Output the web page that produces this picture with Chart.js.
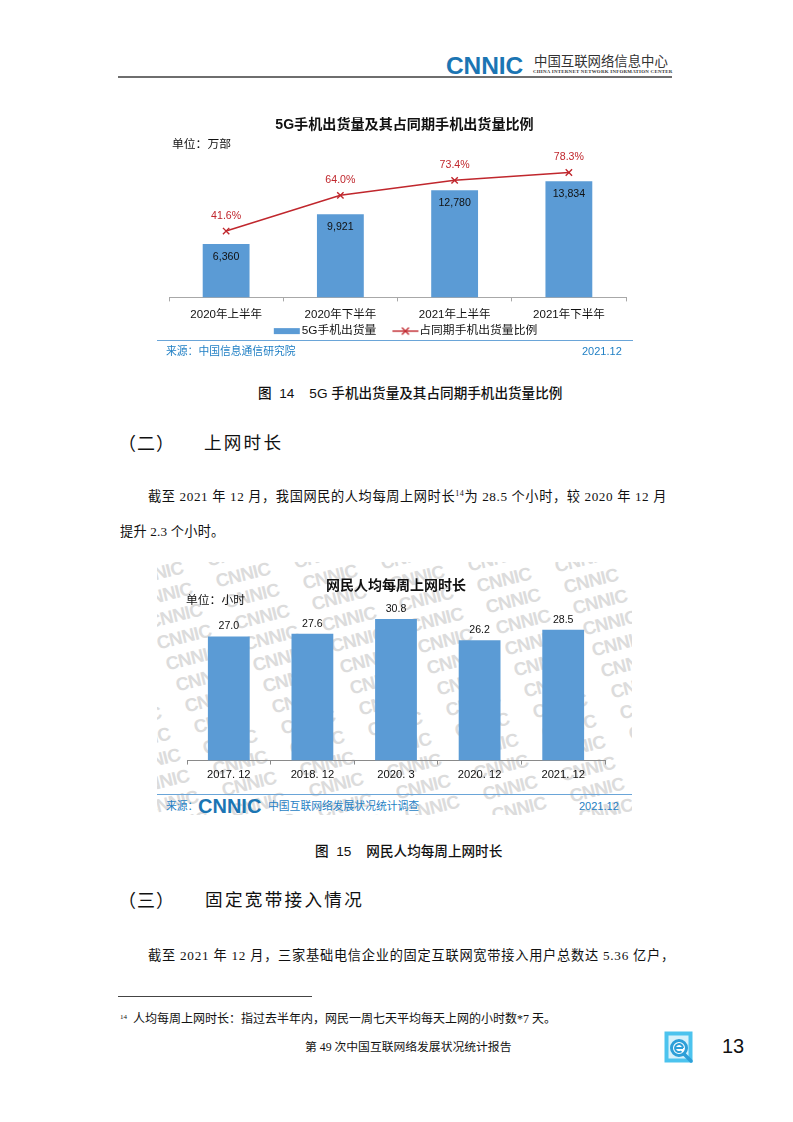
<!DOCTYPE html>
<html lang="zh-CN"><head><meta charset="utf-8">
<script src="https://cdn.jsdelivr.net/npm/chart.js@4"></script>
<style>
html,body{margin:0;padding:0;background:#fff}
body{position:relative;width:793px;height:1122px;overflow:hidden;font-family:"Liberation Serif","Noto Sans CJK SC",serif;color:#111}
.t{position:absolute;white-space:nowrap;line-height:1}
.s{font-family:"Liberation Sans","Noto Sans CJK SC",sans-serif}
.abs{position:absolute}
sup{font-size:8px;line-height:0;vertical-align:5px}
</style></head><body>
<div class="abs" style="left:118px;top:75.5px;width:554px;height:2px;background:#6e6e6e"></div>
<div class="t s" style="left:446px;top:53.5px;font-size:24.5px;font-weight:700;color:#1b75b3;letter-spacing:-.1px">CNNIC</div>
<div class="t" style="left:534px;top:55px;font-size:13.4px;letter-spacing:0;color:#333">中国互联网络信息中心</div>
<div class="t" style="left:533px;top:70px;font-size:4.9px;font-weight:700;letter-spacing:.26px;color:#333">CHINA INTERNET NETWORK INFORMATION CENTER</div>

<canvas id="c1" class="abs" style="left:150px;top:110px"></canvas>
<div class="t s" style="left:172px;top:138.5px;font-size:11.8px;color:#111">单位：万部</div>
<div class="abs" style="left:157px;top:340px;width:476px;height:1px;background:#6aa5d8"></div>
<div class="t s" style="left:166px;top:345.5px;font-size:10.8px;color:#1f7fc4">来源：中国信息通信研究院</div>
<div class="t s" style="left:582px;top:345.5px;font-size:11px;color:#1f7fc4">2021.12</div>
<div class="t s" style="left:258px;top:386.5px;font-size:13.6px;font-weight:500;color:#111">图&nbsp; 14&nbsp; &nbsp; 5G 手机出货量及其占同期手机出货量比例</div>

<div class="t" style="left:118px;top:435px;font-size:18px;letter-spacing:1px">（二）</div>
<div class="t" style="left:204px;top:435px;font-size:17.6px;letter-spacing:2.2px">上网时长</div>
<div class="t" style="left:148px;top:489.5px;font-size:13.2px;letter-spacing:.61px">截至 2021 年 12 月，我国网民的人均每周上网时长<sup>14</sup>为 28.5 个小时，较 2020 年 12 月</div>
<div class="t" style="left:120px;top:525px;font-size:13.2px;letter-spacing:.2px">提升 2.3 个小时。</div>

<div id="wm" class="abs" style="left:157px;top:562px;width:475px;height:253px;overflow:hidden"></div>
<canvas id="c2" class="abs" style="left:157px;top:562px"></canvas>
<div class="t s" style="left:186px;top:594.5px;font-size:11.8px;color:#111">单位：小时</div>
<div class="abs" style="left:157px;top:794px;width:475px;height:1px;background:#6aa5d8"></div>
<div class="t s" style="left:166px;top:800.5px;font-size:10.8px;color:#1f7fc4">来源：</div>
<div class="t s" style="left:198px;top:796px;font-size:20px;font-weight:700;color:#1b75b3">CNNIC</div>
<div class="t s" style="left:268px;top:800.5px;font-size:10.8px;color:#1f7fc4">中国互联网络发展状况统计调查</div>
<div class="t s" style="left:579px;top:800.5px;font-size:11px;color:#1f7fc4">2021.12</div>
<div class="t s" style="left:315px;top:844.5px;font-size:13.6px;font-weight:500;color:#111">图&nbsp; 15&nbsp; &nbsp; 网民人均每周上网时长</div>

<div class="t" style="left:118px;top:892px;font-size:18px;letter-spacing:1px">（三）</div>
<div class="t" style="left:205px;top:892px;font-size:17.6px;letter-spacing:2.3px">固定宽带接入情况</div>
<div class="t" style="left:148px;top:949px;font-size:13.2px;letter-spacing:.76px">截至 2021 年 12 月，三家基础电信企业的固定互联网宽带接入用户总数达 5.36 亿户，</div>

<div class="abs" style="left:118px;top:995.5px;width:194px;height:1px;background:#444"></div>
<div class="t" style="left:120px;top:1013px;font-size:12px"><sup style="font-size:7px;vertical-align:4px">14</sup>&nbsp; 人均每周上网时长：指过去半年内，网民一周七天平均每天上网的小时数*7 天。</div>
<div class="t" style="left:305px;top:1042px;font-size:11.8px">第 49 次中国互联网络发展状况统计报告</div>
<svg class="abs" style="left:664px;top:1031px" width="34" height="34" viewBox="0 0 34 34">
<rect x="2.5" y="2.5" width="24" height="27" fill="#d6f1fb" stroke="#4cc3ee" stroke-width="4"/>
<circle cx="15" cy="17" r="7.5" fill="#fff" stroke="#2d9fd8" stroke-width="3"/>
<path d="M11 17h8M19 17a4 4 0 1 0-1.5 3.2" fill="none" stroke="#2d9fd8" stroke-width="2"/>
<path d="M20 23l7 7" stroke="#2d9fd8" stroke-width="3.5" stroke-linecap="round"/>
</svg>
<div class="t s" style="left:722px;top:1036px;font-size:20px;color:#111">13</div>

<script>
const cats1 = ["2020年上半年","2020年下半年","2021年上半年","2021年下半年"];
const shipments = [6360, 9921, 12780, 13834];
const ratio = [41.6, 64.0, 73.4, 78.3];
const cats2 = ["2017. 12","2018. 12","2020. 3","2020. 12","2021. 12"];
const hours = [27.0, 27.6, 30.8, 26.2, 28.5];

const SANS = '"Liberation Sans","Noto Sans CJK SC",sans-serif';
const BLUE = '#5b9bd5', RED = '#c0272d';
Chart.defaults.font.family = SANS;
Chart.defaults.animation = false;
Chart.defaults.devicePixelRatio = 1;

// watermark
(function(){
  const wm = document.getElementById('wm');
  const ax=87, ay=1.5, bx=9.3, by=21;
  for(let j=-3;j<14;j++){ for(let i=-6;i<8;i++){
    const x = 86 + i*ax + j*bx, y = 13 + j*by + i*ay;
    const d = document.createElement('div');
    d.textContent='CNNIC';
    d.style.cssText='position:absolute;left:'+(x-30)+'px;top:'+(y-10)+'px;width:60px;text-align:center;font:700 18.5px "Liberation Sans",sans-serif;line-height:20px;color:#dcdcdc;transform:rotate(-14deg);letter-spacing:-.6px';
    wm.appendChild(d);
  }}
})();

function swatch(kind){
  const c=document.createElement('canvas'); c.width=40; c.height=12;
  const g=c.getContext('2d');
  if(kind==='bar'){ g.fillStyle=BLUE; g.fillRect(10,3,26,6); }
  else {
    g.strokeStyle=RED; g.lineWidth=1.4;
    g.beginPath(); g.moveTo(11,6); g.lineTo(37,6); g.stroke();
    g.beginPath(); g.moveTo(20.5,2.5); g.lineTo(27.5,9.5); g.moveTo(27.5,2.5); g.lineTo(20.5,9.5); g.stroke();
  }
  return c;
}

const valueLabels = {
  id:'valueLabels',
  afterDatasetsDraw(chart,args,opts){
    const g=chart.ctx; g.save(); g.textAlign='center'; g.textBaseline='middle';
    opts.items.forEach(it=>{
      const meta=chart.getDatasetMeta(it.ds);
      meta.data.forEach((el,i)=>{
        g.font=it.font; g.fillStyle=it.color;
        g.fillText(it.fmt(chart.data.datasets[it.ds].data[i]), el.x, el.y+it.dy);
      });
    });
    g.restore();
  }
};

// the legend sits close under the tick labels: the axis box is shortened for layout, then restored for drawing
const AXIS_TRIM = 17;
const axisBox = { id:'axisBox', afterLayout(chart){ chart.scales.x.bottom += AXIS_TRIM; } };

function sizeCanvas(id,w,h){const c=document.getElementById(id);c.width=w;c.height=h;c.style.width=w+'px';c.style.height=h+'px';return c;}

new Chart(sizeCanvas('c1',509,237),{
  data:{labels:cats1,datasets:[
    {type:'line',label:'占同期手机出货量比例',data:ratio,yAxisID:'y2',borderColor:RED,borderWidth:1.5,tension:0,
     pointStyle:'crossRot',pointRadius:4.5,pointBorderColor:RED,pointBorderWidth:1.4,backgroundColor:RED,order:1},
    {type:'bar',label:'5G手机出货量',data:shipments,yAxisID:'y',backgroundColor:BLUE,barPercentage:.41,categoryPercentage:1,order:2}
  ]},
  options:{responsive:false,maintainAspectRatio:false,
    layout:{padding:0},
    scales:{
      x:{afterFit(s){s.height-=AXIS_TRIM;},grid:{drawOnChartArea:false,color:'#a8a8a8',tickLength:4},border:{color:'#a8a8a8'},
         ticks:{color:'#111',font:{size:11.5},padding:7,maxRotation:0}},
      y:{position:'left',min:0,max:19000,ticks:{display:false},grid:{display:false},border:{display:false},afterFit(s){s.width=19;}},
      y2:{position:'right',min:0,max:100,ticks:{display:false},grid:{display:false},border:{display:false},afterFit(s){s.width=33;}}
    },
    plugins:{
      title:{display:true,text:'5G手机出货量及其占同期手机出货量比例',color:'#111',font:{size:14.1,weight:'bold'},padding:{top:7,bottom:4}},
      legend:{display:true,position:'bottom',reverse:true,
        labels:{usePointStyle:true,pointStyleWidth:24,boxHeight:12,color:'#111',font:{size:11.8},padding:13,
          generateLabels(ch){return ch.data.datasets.map((d,i)=>({text:d.label,datasetIndex:i,fontColor:'#111',
            pointStyle:swatch(d.type),lineWidth:0,strokeStyle:'transparent',fillStyle:'transparent'}));}}},
      tooltip:{enabled:false},
      valueLabels:{items:[
        {ds:1,font:'10.6px '+SANS,color:'#111',dy:13,fmt:v=>v.toLocaleString('en-US')},
        {ds:0,font:'10.6px '+SANS,color:RED,dy:-15,fmt:v=>v.toFixed(1)+'%'}
      ]}
    }
  },
  plugins:[valueLabels,axisBox]
});

new Chart(sizeCanvas('c2',475,224),{
  type:'bar',
  data:{labels:cats2,datasets:[{label:'网民人均每周上网时长',data:hours,backgroundColor:BLUE,barPercentage:.5,categoryPercentage:1}]},
  options:{responsive:false,maintainAspectRatio:false,
    layout:{padding:{left:30,right:27,top:0,bottom:0}},
    scales:{
      x:{grid:{drawOnChartArea:false,color:'#8a8a8a',tickLength:4},border:{color:'#8a8a8a'},
         ticks:{color:'#111',font:{size:11.2},padding:4,maxRotation:0}},
      y:{display:false,min:0,max:35}
    },
    plugins:{
      title:{display:true,text:'网民人均每周上网时长',color:'#111',font:{size:14,weight:'bold'},padding:{top:16,bottom:5}},
      legend:{display:false},tooltip:{enabled:false},
      valueLabels:{items:[{ds:0,font:'10.6px '+SANS,color:'#111',dy:-10,fmt:v=>v.toFixed(1)}]}
    }
  },
  plugins:[valueLabels]
});
</script>
</body></html>
